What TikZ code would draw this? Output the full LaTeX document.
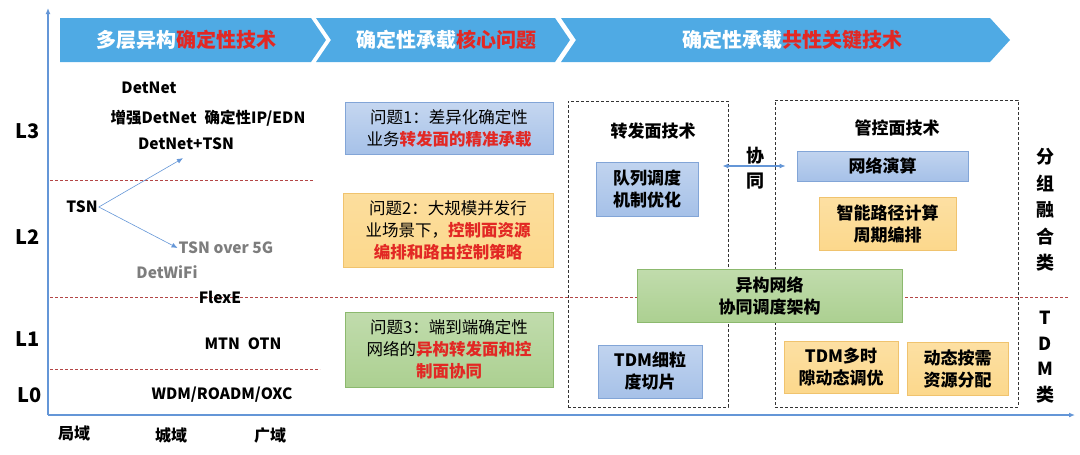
\documentclass[tikz,border=0pt]{standalone}
\usepackage{fontspec}
\setmainfont{Noto Sans CJK SC}
\usetikzlibrary{arrows.meta}
\definecolor{bannerblue}{RGB}{79,170,228}
\definecolor{bred}{RGB}{226,40,36}
\definecolor{axisblue}{RGB}{100,150,215}
\definecolor{dred}{RGB}{180,70,70}
\definecolor{bluefill}{RGB}{166,193,232}
\definecolor{blueline}{RGB}{130,165,215}
\definecolor{yelfill}{RGB}{252,216,140}
\definecolor{yelline}{RGB}{240,195,110}
\definecolor{grnfill}{RGB}{172,208,145}
\definecolor{grnline}{RGB}{140,185,110}
\definecolor{graytxt}{RGB}{125,125,125}
\begin{document}
\begin{tikzpicture}[x=1pt,y=-1pt,
  axis/.style={draw=axisblue,line width=1.6pt,-{Latex[length=6pt,width=5pt]}},
  banner/.style={fill=bannerblue},
  bt/.style={text=white,font=\fontsize{20}{22}\selectfont\bfseries,inner sep=0pt},
  lvl/.style={font=\fontsize{20}{22}\selectfont\bfseries,inner sep=0pt},
  lab/.style={font=\fontsize{15.5}{18}\selectfont\bfseries,inner sep=1pt},
  glab/.style={lab,text=graytxt},
  dom/.style={font=\fontsize{16}{18}\selectfont\bfseries,inner sep=0pt},
  reddash/.style={draw=dred,dashed,line width=0.7pt,dash pattern=on 3pt off 2pt},
  thinarrow/.style={draw=axisblue,line width=0.6pt,-{Latex[length=6pt,width=5pt]}},
  qbox/.style={draw,line width=0.6pt,align=center,inner sep=0pt,
    font=\fontsize{16.5}{22}\selectfont},
  qblue/.style={qbox,draw=blueline,top color=bluefill!65!white,bottom color=bluefill},
  qyel/.style={qbox,draw=yelline,top color=yelfill!85!white,bottom color=yelfill},
  qgrn/.style={qbox,draw=grnline,top color=grnfill!75!white,bottom color=grnfill},
  tbox/.style={align=center,inner sep=0pt,font=\fontsize{17}{22}\selectfont\bfseries,line width=0.6pt},
  tblue/.style={tbox,draw=blueline,top color=bluefill!70!white,bottom color=bluefill},
  tyel/.style={tbox,draw=yelline,top color=yelfill!80!white,bottom color=yelfill},
  tgrn/.style={tbox,draw=grnline,top color=grnfill!75!white,bottom color=grnfill},
  dashbox/.style={draw=black!80,dashed,line width=0.7pt,dash pattern=on 3pt off 2pt,inner sep=0pt},
  head/.style={font=\fontsize{17}{20}\selectfont\bfseries,inner sep=0pt},
  side/.style={font=\fontsize{18}{27}\selectfont\bfseries,align=center,inner sep=0pt}
]
\useasboundingbox (0,0) rectangle (1080,455);

% red dashed level separators
\draw[reddash] (50,180) -- (313,180);
\draw[reddash] (50,297) -- (1068,297);
\draw[reddash] (50,369) -- (320,369);

% axes
\coordinate (o) at (48,415);
\coordinate (ytop) at (48,8);
\coordinate (xend) at (1075,415);
\draw[axis] (o) -- (ytop);
\draw[axis] (o) -- (xend);

% banners
\fill[banner] (60,18) -- (311,18) -- (326,40) -- (311,62) -- (60,62) -- cycle;
\fill[banner] (316,18) -- (555,18) -- (570,40) -- (555,62) -- (316,62) -- (331,40) -- cycle;
\fill[banner] (561,18) -- (990,18) -- (1010,40) -- (990,62) -- (561,62) -- (576,40) -- cycle;
\node[bt] (b1) at (186,40) {多层异构\textcolor{bred}{确定性技术}};
\node[bt] (b2) at (446,40) {确定性承载\textcolor{bred}{核心问题}};
\node[bt] (b3) at (792,40) {确定性承载\textcolor{bred}{共性关键技术}};

% level labels
\node[lvl] (l3) at (28,131) {L3};
\node[lvl] (l2) at (28,237) {L2};
\node[lvl] (l1) at (28,339) {L1};
\node[lvl] (l0) at (30,395) {L0};

% domain labels
\node[dom] (d1) at (74,433) {局域};
\node[dom] (d2) at (171,435) {城域};
\node[dom] (d3) at (270,435) {广域};

% technology labels
\node[lab] (detnet) at (149,88) {DetNet};
\node[lab] (enh) at (208,118) {增强DetNet\hspace{8pt}确定性IP/EDN};
\node[lab] (dtsn) at (186,144) {DetNet+TSN};
\node[lab] (tsn) at (82,207) {TSN};
\node[glab] (tsn5g) at (226,248) {TSN over 5G};
\node[glab] (detwifi) at (167,272) {DetWiFi};
\node[lab] (flexe) at (220,297) {FlexE};
\node[lab] (mtn) at (243,344) {MTN\hspace{8pt}OTN};
\node[lab] (wdm) at (222,395) {WDM/ROADM/OXC};
\draw[thinarrow] (tsn.east) -- ([xshift=-3pt,yshift=-7pt]dtsn.south);
\draw[thinarrow] (tsn.east) -- (tsn5g.west);

% problem boxes
\node[qblue,minimum width=208pt,minimum height=52pt] (q1) at (449,128)
  {问题1：差异化确定性\\业务\textcolor{bred}{\bfseries 转发面的精准承载}};
\node[qyel,minimum width=210pt,minimum height=74pt] (q2) at (448,230)
  {问题2：大规模并发行\\业场景下，\textcolor{bred}{\bfseries 控制面资源}\\\textcolor{bred}{\bfseries 编排和路由控制策略}};
\node[qgrn,minimum width=208pt,minimum height=75pt] (q3) at (449,349.5)
  {问题3：端到端确定性\\网络的\textcolor{bred}{\bfseries 异构转发面和控}\\\textcolor{bred}{\bfseries 制面协同}};

% dashed technology groups
\node[dashbox,minimum width=160pt,minimum height=306pt] (fwd) at (648,254) {};
\node[dashbox,minimum width=243pt,minimum height=307pt] (ctl) at (896.5,253.5) {};
\node[head] (fwdt) at (653,131) {转发面技术};
\node[head] (ctlt) at (897,128) {管控面技术};

\node[tblue,minimum width=102pt,minimum height=54pt] (qs) at (647,189) {队列调度\\机制优化};
\node[tblue,minimum width=104pt,minimum height=53pt] (slice) at (650,371.5) {TDM细粒\\度切片};
\node[tblue,minimum width=171pt,minimum height=30pt] (nc) at (882.5,166) {网络演算};
\node[tyel,minimum width=137pt,minimum height=53pt] (smart) at (887.5,223.5) {智能路径计算\\周期编排};
\node[tyel,minimum width=114pt,minimum height=52pt] (multi) at (841,367) {TDM多时\\隙动态调优};
\node[tyel,minimum width=101pt,minimum height=53pt] (dyn) at (957.5,368.5) {动态按需\\资源分配};
\node[tgrn,minimum width=265pt,minimum height=53pt] (arch) at (769.5,295.5) {异构网络\\协同调度架构};

% cooperation arrow
\draw[draw=axisblue,line width=1.2pt,{Latex[length=6pt,width=5pt]}-{Latex[length=6pt,width=5pt]}]
  ([xshift=-6pt]fwd.east |- nc.west) -- ([xshift=-11pt]nc.west);
\node[head,align=center,font=\fontsize{18}{25}\selectfont\bfseries] (xt) at (755,168) {协\\同};

% side categories
\node[side,font=\fontsize{18}{26.5}\selectfont\bfseries] (pkt) at (1045,210) {分\\组\\融\\合\\类};
\node[side,font=\fontsize{18}{25.7}\selectfont\bfseries] (tdm) at (1045,357) {T\\D\\M\\类};
\end{tikzpicture}
\end{document}
